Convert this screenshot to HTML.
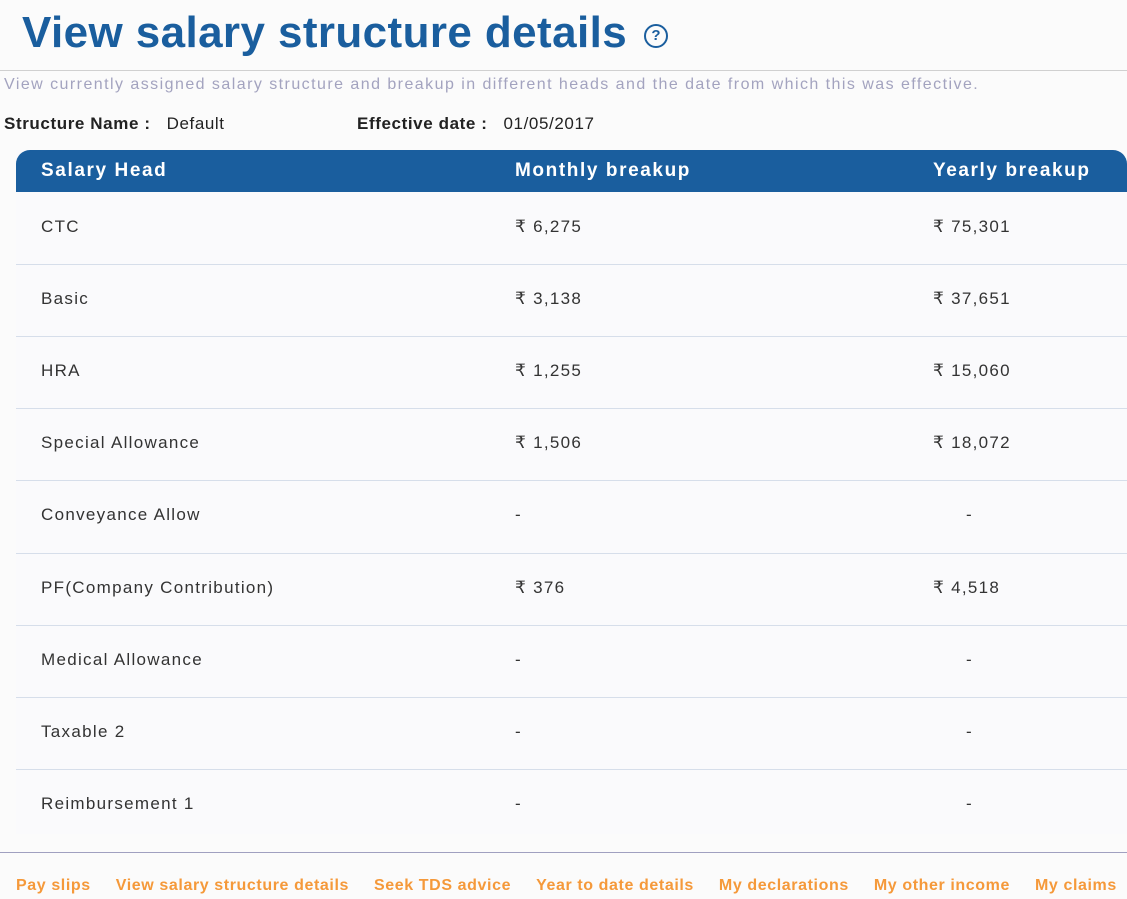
<!DOCTYPE html>
<html><head><meta charset="utf-8"><style>
body{margin:0;width:1127px;height:899px;background:#fbfbfb;font-family:"Liberation Sans",sans-serif;position:relative;overflow:hidden;color:#333}
.a{position:absolute;white-space:nowrap}
h1{position:absolute;left:22px;top:8px;margin:0;font-size:44px;font-weight:bold;color:#1a5e9e;letter-spacing:0.4px}
.q{position:absolute;left:644px;top:24px;width:20px;height:20px;border:2px solid #1a5e9e;border-radius:50%;color:#1a5e9e;font-size:15px;font-weight:bold;text-align:center;line-height:20px}
.hr1{position:absolute;left:0;top:70px;width:1127px;height:1px;background:#d0d0d0}
.sub{left:4px;top:76px;font-size:16px;color:#a3a3bf;letter-spacing:1.45px}
.lbl{top:114px;font-size:17px;color:#222;letter-spacing:0.6px}
.tbl{position:absolute;left:16px;top:150px;width:1111px;height:684px;background:#fafafc}
.hd{position:absolute;left:0;top:0;width:1111px;height:42px;background:#1a5e9e;border-radius:14px 14px 0 0}
.hd span{position:absolute;top:10px;color:#fff;font-weight:bold;font-size:19px;letter-spacing:1.6px}
.row{position:absolute;left:0;width:1111px;height:72px;border-bottom:1px solid #d6deea}
.row span{position:absolute;top:25px;font-size:17px;color:#333;letter-spacing:1.3px}
.hr2{position:absolute;left:0;top:852px;width:1127px;height:1px;background:#a0a0c0}
.ft{position:absolute;top:877px;left:16px;font-size:16px;font-weight:bold;color:#f5993a;white-space:nowrap;letter-spacing:0.6px}
.ft b{margin-right:25px}
</style></head><body>
<h1>View salary structure details</h1><div class="q">?</div>
<div class="hr1"></div>
<div class="a sub">View currently assigned salary structure and breakup in different heads and the date from which this was effective.</div>
<div class="a lbl" style="left:4px"><b>Structure Name :</b>&nbsp;&nbsp; Default</div>
<div class="a lbl" style="left:357px"><b>Effective date :</b>&nbsp;&nbsp; 01/05/2017</div>
<div class="tbl">
<div class="hd"><span style="left:25px">Salary Head</span><span style="left:499px">Monthly breakup</span><span style="left:917px">Yearly breakup</span></div>
<div class="row" style="top:42px"><span style="left:25px">CTC</span><span style="left:499px">₹ 6,275</span><span style="left:917px">₹ 75,301</span></div>
<div class="row" style="top:114px"><span style="left:25px">Basic</span><span style="left:499px">₹ 3,138</span><span style="left:917px">₹ 37,651</span></div>
<div class="row" style="top:186px"><span style="left:25px">HRA</span><span style="left:499px">₹ 1,255</span><span style="left:917px">₹ 15,060</span></div>
<div class="row" style="top:258px"><span style="left:25px">Special Allowance</span><span style="left:499px">₹ 1,506</span><span style="left:917px">₹ 18,072</span></div>
<div class="row" style="top:330px;height:73px"><span style="left:25px">Conveyance Allow</span><span style="left:499px">-</span><span style="left:950px">-</span></div>
<div class="row" style="top:403px"><span style="left:25px">PF(Company Contribution)</span><span style="left:499px">₹ 376</span><span style="left:917px">₹ 4,518</span></div>
<div class="row" style="top:475px"><span style="left:25px">Medical Allowance</span><span style="left:499px">-</span><span style="left:950px">-</span></div>
<div class="row" style="top:547px"><span style="left:25px">Taxable 2</span><span style="left:499px">-</span><span style="left:950px">-</span></div>
<div class="row" style="top:619px;border:none"><span style="left:25px">Reimbursement 1</span><span style="left:499px">-</span><span style="left:950px">-</span></div>
</div>
<div class="hr2"></div>
<div class="ft"><b>Pay slips</b><b>View salary structure details</b><b>Seek TDS advice</b><b>Year to date details</b><b>My declarations</b><b>My other income</b><b>My claims</b></div>
</body></html>
